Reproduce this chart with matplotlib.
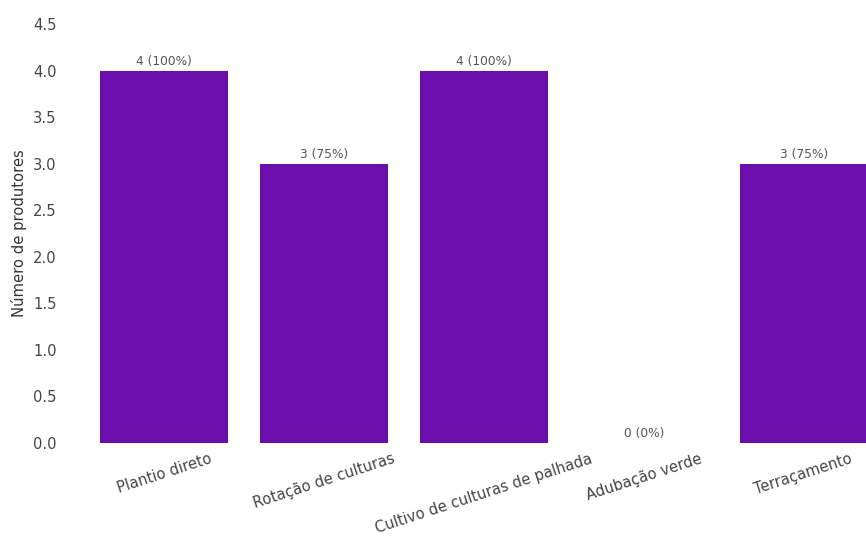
import matplotlib
matplotlib.use('Agg')
import matplotlib.pyplot as plt

praticas = ['Plantio direto', 'Rotação de culturas', 'Cultivo de culturas de palhada',
            'Adubação verde', 'Terraçamento']
produtores = [4, 3, 4, 0, 3]
total = 4
rotulos = [f'{v} ({round(v / total * 100)}%)' for v in produtores]

fig = plt.figure(figsize=(8.66, 5.43), dpi=100)
ax = fig.add_axes((62 / 866, 1 - 443 / 543, 1 - 62 / 866, (443 - 24) / 543))

xs = range(len(praticas))
bars = ax.bar(xs, produtores, width=0.8, color='#6a0dab')
for b, txt in zip(bars, rotulos):
    ax.text(b.get_x() + b.get_width() / 2, b.get_height() + 0.03, txt,
            ha='center', va='bottom', fontsize=8.8, color='#555555')

ax.set_xlim(-0.64, 4.39)
ax.set_ylim(0, 4.5)
ax.set_yticks([0, 0.5, 1, 1.5, 2, 2.5, 3, 3.5, 4, 4.5])
ax.set_xticks(list(xs))
ax.set_xticklabels(praticas, rotation=18, ha='center')
ax.tick_params(axis='both', length=0, labelsize=10.6, colors='#444444')
ax.tick_params(axis='x', pad=6)
ax.tick_params(axis='y', pad=4)
ax.set_ylabel('Número de produtores', fontsize=10.6, color='#333333')
for s in ax.spines.values():
    s.set_visible(False)

fig.savefig('out.png', dpi=100)
